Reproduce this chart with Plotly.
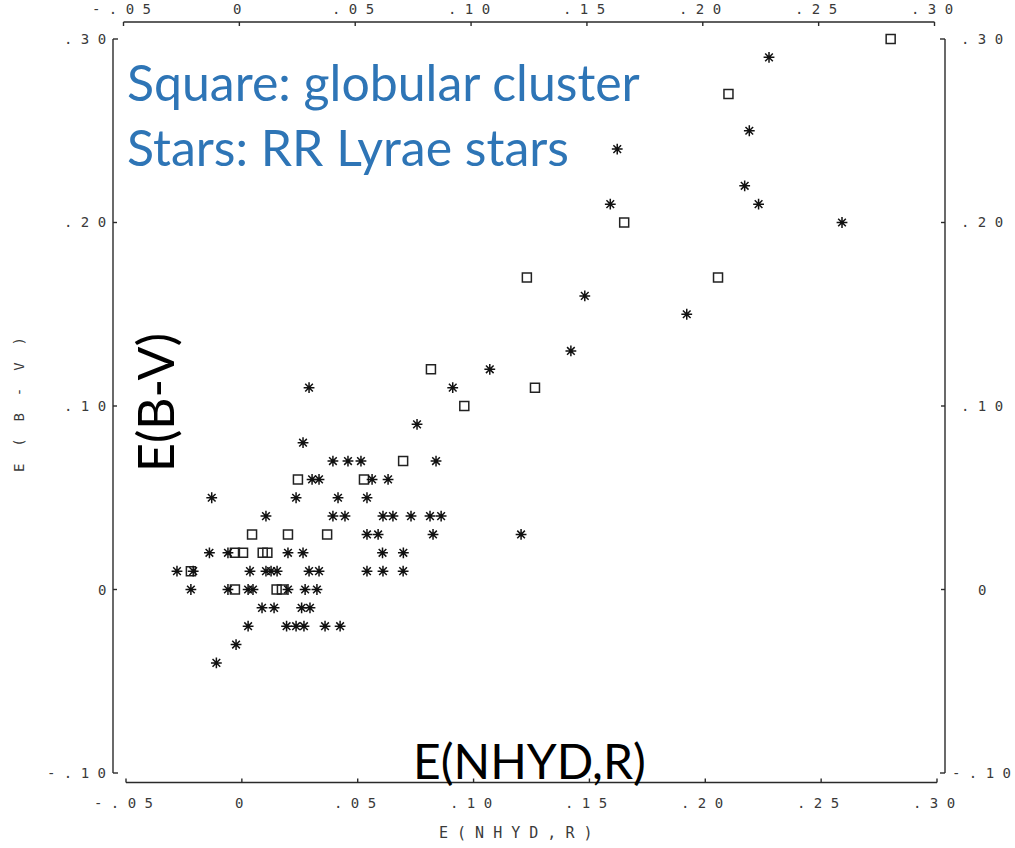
import plotly.graph_objects as go

# ---------------- data ----------------
cluster_x = [0.280, 0.210, 0.165, 0.123, 0.2055, 0.1265, 0.096, 0.0816, 0.0696,
             0.0527, 0.0242, 0.0368, 0.0199, 0.0044, -0.003, 0.0005, 0.009, 0.011,
             -0.022, -0.003, 0.015, 0.0173]
cluster_y = [0.30, 0.27, 0.20, 0.17, 0.17, 0.11, 0.10, 0.12, 0.07,
             0.06, 0.06, 0.03, 0.03, 0.03, 0.02, 0.02, 0.02, 0.02,
             0.01, 0.00, 0.00, 0.00]

rr_x = [0.2275, 0.219, 0.162, 0.217, 0.159, 0.223, 0.259, 0.148, 0.192, 0.142,
        0.107, 0.029, 0.091, 0.0756, 0.0264,
        0.0393, 0.0458, 0.0514, 0.0838,
        0.0303, 0.0333, 0.0562, 0.0631,
        -0.013, 0.0234, 0.0415, 0.054,
        0.0104, 0.0393, 0.0445, 0.0609, 0.0652, 0.073, 0.0812, 0.086,
        0.054, 0.0588, 0.0825, 0.1205,
        -0.014, -0.006, 0.0199, 0.0264, 0.0607, 0.0697,
        -0.028, -0.021, 0.0035, 0.0104, 0.0126, 0.0152, 0.029, 0.0333, 0.054, 0.0609, 0.0696,
        -0.022, -0.006, 0.0027, 0.0048, 0.0199, 0.0273, 0.0324,
        0.0087, 0.0139, 0.0258, 0.0294,
        0.0027, 0.0193, 0.0234, 0.0268, 0.0359, 0.0424,
        -0.0025, -0.011]
rr_y = [0.29, 0.25, 0.24, 0.22, 0.21, 0.21, 0.20, 0.16, 0.15, 0.13,
        0.12, 0.11, 0.11, 0.09, 0.08,
        0.07, 0.07, 0.07, 0.07,
        0.06, 0.06, 0.06, 0.06,
        0.05, 0.05, 0.05, 0.05,
        0.04, 0.04, 0.04, 0.04, 0.04, 0.04, 0.04, 0.04,
        0.03, 0.03, 0.03, 0.03,
        0.02, 0.02, 0.02, 0.02, 0.02, 0.02,
        0.01, 0.01, 0.01, 0.01, 0.01, 0.01, 0.01, 0.01, 0.01, 0.01, 0.01,
        0.00, 0.00, 0.00, 0.00, 0.00, 0.00, 0.00,
        -0.01, -0.01, -0.01, -0.01,
        -0.02, -0.02, -0.02, -0.02, -0.02, -0.02,
        -0.03, -0.04]

x_ticks = [-0.05, 0.0, 0.05, 0.10, 0.15, 0.20, 0.25, 0.30]
x_tick_text = ["- . 0 5", "0", ". 0 5", ". 1 0", ". 1 5", ". 2 0", ". 2 5", ". 3 0"]
y_ticks = [-0.10, 0.0, 0.10, 0.20, 0.30]
y_tick_text = ["- . 1 0", "0", ". 1 0", ". 2 0", ". 3 0"]

x_title = "E ( N H Y D , R )"
y_title = "E  (  B  -  V  )"
legend_lines = ["Square: globular cluster", "Stars: RR Lyrae stars"]
overlay_x_label = "E(NHYD,R)"
overlay_y_label = "E(B-V)"

# ---------------- layout geometry ----------------
W, H = 1015, 848
ML, MR, MT, MB = 126, 78, 39, 75
X0, X1 = -0.05, 0.30
Y0, Y1 = -0.10, 0.30
PW = W - ML - MR
PH = H - MT - MB


def fx(v):
    return (v - X0) / (X1 - X0)


def fy(v):
    return (v - Y0) / (Y1 - Y0)


def dpx(p):  # pixel offset -> paper x offset
    return p / PW


def dpy(p):  # pixel offset -> paper y offset
    return p / PH


def px(p):
    return (p - ML) / PW


def py(p):
    return (H - MB - p) / PH


fig = go.Figure()
fig.add_trace(go.Scatter(
    x=cluster_x, y=cluster_y, mode="markers", name="globular cluster",
    marker=dict(symbol="square-open", size=9, color="#222",
                line=dict(width=1.5, color="#222")),
    cliponaxis=False, showlegend=False))
fig.add_trace(go.Scatter(
    x=rr_x, y=rr_y, mode="markers", name="RR Lyrae",
    marker=dict(symbol="asterisk-open", size=9, color="#111",
                line=dict(width=1.5, color="#111")),
    cliponaxis=False, showlegend=False))

LC = "#2a2a2a"
LW = 1.4
shapes = []


def seg(x0, y0, x1, y1):
    shapes.append(dict(type="line", xref="paper", yref="paper",
                       x0=x0, y0=y0, x1=x1, y1=y1,
                       line=dict(color=LC, width=LW)))


# bottom axis
yb = py(782.5)
seg(fx(X0), yb, fx(X1), yb)
seg(fx(X0), yb, fx(X0), yb + dpy(4))
seg(fx(X1), yb, fx(X1), yb + dpy(4))
for v in x_ticks[1:-1]:
    seg(fx(v), yb, fx(v), yb + dpy(4))

# top axis (slightly shifted left)
yt = py(22)
sh = -dpx(2.5)
seg(fx(X0) + sh, yt, fx(X1) + sh, yt)
seg(fx(X0) + sh, yt, fx(X0) + sh, yt - dpy(4))
seg(fx(X1) + sh, yt, fx(X1) + sh, yt - dpy(4))
for v in x_ticks[1:-1]:
    seg(fx(v) + sh, yt, fx(v) + sh, yt - dpy(4))

# left axis
xl = px(113)
seg(xl, fy(Y0), xl, fy(Y1))
seg(xl, fy(Y1), xl + dpx(5), fy(Y1))
seg(xl, fy(Y0), xl + dpx(5), fy(Y0))
for v in y_ticks[1:-1]:
    seg(xl, fy(v), xl + dpx(4), fy(v))

# right axis
xr = px(945)
seg(xr, fy(Y0), xr, fy(Y1))
seg(xr, fy(Y1), xr - dpx(5), fy(Y1))
seg(xr, fy(Y0), xr - dpx(5), fy(Y0))
for v in y_ticks[1:-1]:
    seg(xr, fy(v), xr - dpx(4), fy(v))

annotations = []
TF = dict(family="DejaVu Sans Mono", size=14, color="#3a3a3a")

for v, t in zip(x_ticks, x_tick_text):
    annotations.append(dict(x=fx(v) - dpx(3), y=py(803), xref="paper", yref="paper",
                            text=t, showarrow=False, font=TF,
                            xanchor="center", yanchor="middle"))
    annotations.append(dict(x=fx(v) - dpx(5), y=py(9), xref="paper", yref="paper",
                            text=t, showarrow=False, font=TF,
                            xanchor="center", yanchor="middle"))

for v, t in zip(y_ticks, y_tick_text):
    annotations.append(dict(x=px(108), y=fy(v), xref="paper", yref="paper",
                            text=t, showarrow=False, font=TF,
                            xanchor="right", yanchor="middle"))
    annotations.append(dict(x=px(982), y=fy(v), xref="paper", yref="paper",
                            text=t, showarrow=False, font=TF,
                            xanchor="center", yanchor="middle"))

annotations.append(dict(x=px(516), y=py(833), xref="paper", yref="paper",
                        text=x_title, showarrow=False,
                        font=dict(family="DejaVu Sans Mono", size=15, color="#3a3a3a"),
                        xanchor="center", yanchor="middle"))
annotations.append(dict(x=px(19), y=py(405), xref="paper", yref="paper",
                        text=y_title, showarrow=False, textangle=-90,
                        font=dict(family="DejaVu Sans Mono", size=14, color="#3a3a3a"),
                        xanchor="center", yanchor="middle"))

BIG = "Lato"
annotations.append(dict(x=px(125), y=py(82), xref="paper", yref="paper",
                        text=legend_lines[0], showarrow=False,
                        font=dict(family=BIG, size=50, color="#2E75B6"),
                        xanchor="left", yanchor="middle"))
annotations.append(dict(x=px(125), y=py(147), xref="paper", yref="paper",
                        text=legend_lines[1], showarrow=False,
                        font=dict(family=BIG, size=50, color="#2E75B6"),
                        xanchor="left", yanchor="middle"))
annotations.append(dict(x=px(155), y=py(403), xref="paper", yref="paper",
                        text=overlay_y_label, showarrow=False, textangle=-90,
                        font=dict(family=BIG, size=50, color="#000000"),
                        xanchor="center", yanchor="middle"))
annotations.append(dict(x=px(529), y=py(760), xref="paper", yref="paper",
                        text=overlay_x_label, showarrow=False,
                        font=dict(family=BIG, size=48, color="#000000"),
                        xanchor="center", yanchor="middle"))

fig.update_layout(
    width=W, height=H,
    margin=dict(l=ML, r=MR, t=MT, b=MB, pad=0),
    paper_bgcolor="white", plot_bgcolor="white",
    xaxis=dict(range=[X0, X1], visible=False, fixedrange=True),
    yaxis=dict(range=[Y0, Y1], visible=False, fixedrange=True),
    shapes=shapes, annotations=annotations, showlegend=False,
)

fig.write_html("out.html", config={"displayModeBar": False})
